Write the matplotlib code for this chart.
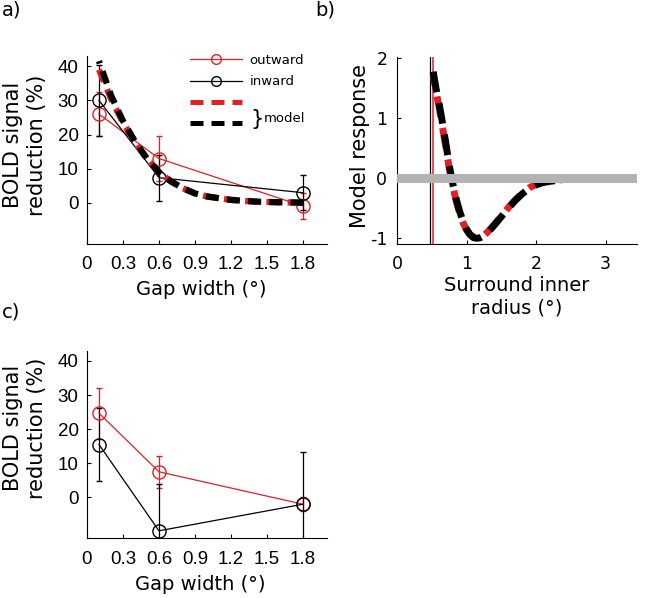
import numpy as np
import matplotlib
matplotlib.use("Agg")
import matplotlib.pyplot as plt
from matplotlib.lines import Line2D

plt.rcParams['axes.unicode_minus'] = False
plt.rcParams['font.family'] = 'DejaVu Sans'

RED = '#e41e24'
GREY = '#b3b3b3'

# measured gap widths (deg)
gap = [0.1, 0.6, 1.8]

# panel a: experiment 1
out_a = [26.0, 13.0, -0.9]
out_a_err = [6.5, 6.5, 3.7]
in_a = [30.0, 7.4, 3.0]
in_a_err = [10.5, 6.7, 5.1]

# model prediction, panel a
model_x = [0.1, 0.2, 0.3, 0.4, 0.5, 0.6, 0.7, 0.8, 0.9, 1.0, 1.2, 1.4, 1.6, 1.8]
model_in = [41.5, 31.5, 24.0, 18.0, 13.0, 9.0, 6.3, 4.3, 2.8, 1.9, 0.9, 0.4, 0.2, 0.1]
model_out = [39.0, 30.5, 23.5, 17.8, 12.8, 9.0, 6.3, 4.3, 2.8, 1.9, 0.9, 0.4, 0.2, 0.1]

# panel b: model response vs surround inner radius
radius = [0.52, 0.56, 0.60, 0.65, 0.70, 0.75, 0.80, 0.85, 0.90, 0.95, 1.00, 1.05, 1.10,
          1.15, 1.20, 1.25, 1.30, 1.40, 1.50, 1.60, 1.70, 1.80, 1.90, 2.00, 2.10, 2.20,
          2.40, 2.60, 2.80, 3.00, 3.20, 3.40]
resp_in = [1.78, 1.50, 1.28, 0.95, 0.60, 0.22, -0.08, -0.34, -0.55, -0.72, -0.85, -0.94, -0.99,
           -1.00, -0.99, -0.96, -0.91, -0.78, -0.64, -0.50, -0.37, -0.26, -0.17, -0.11, -0.07, -0.05,
           -0.02, -0.01, -0.005, 0.0, 0.0, 0.0]
resp_out = [1.72, 1.45, 1.22, 0.88, 0.54, 0.17, -0.12, -0.37, -0.58, -0.74, -0.86, -0.94, -0.98,
            -0.99, -0.98, -0.95, -0.90, -0.77, -0.63, -0.49, -0.36, -0.25, -0.16, -0.10, -0.06, -0.04,
            -0.02, -0.01, -0.005, 0.0, 0.0, 0.0]
edge_in = 0.475
edge_out = 0.515

# panel c: experiment 2
out_c = [24.7, 7.5, -2.0]
out_c_err = [7.5, 4.7, 2.0]
in_c = [15.5, -9.8, -2.0]
in_c_err = [10.8, 13.7, 15.3]

gap_ticks = [0, 0.3, 0.6, 0.9, 1.2, 1.5, 1.8]
gap_ticklabels = ['0', '0.3', '0.6', '0.9', '1.2', '1.5', '1.8']
bold_ticks = [0, 10, 20, 30, 40]

fig = plt.figure(figsize=(6.64, 5.98), dpi=100)

def style_gap_axes(ax, label_y):
    for s in ['top', 'right']:
        ax.spines[s].set_visible(False)
    ax.set_xlim(0, 2.0)
    ax.set_ylim(-12, 43)
    ax.set_xticks(gap_ticks)
    ax.set_xticklabels(gap_ticklabels, family='Liberation Sans', fontsize=13.5)
    ax.set_yticks(bold_ticks)
    ax.set_yticklabels([str(t) for t in bold_ticks], family='Liberation Sans', fontsize=13.5)
    ax.tick_params(direction='in', length=3, width=0.8)
    ax.tick_params(axis='x', pad=9)
    ax.tick_params(axis='y', pad=6)
    ax.set_xlabel('Gap width (°)', fontsize=14)
    ax.set_ylabel('BOLD signal\nreduction (%)', fontsize=15)
    ax.yaxis.set_label_coords(-0.168, label_y)

def data_lines(ax, yo, yo_err, yi, yi_err):
    ax.errorbar(gap, yo, yerr=yo_err, color=RED, lw=0.9, elinewidth=0.9, capsize=2,
                marker='o', ms=9.5, mfc='none', mec=RED, mew=1.0, zorder=3)
    ax.errorbar(gap, yi, yerr=yi_err, color='black', lw=0.9, elinewidth=0.9, capsize=2,
                marker='o', ms=9.5, mfc='none', mec='black', mew=1.0, zorder=3)

# ---- a) ----
ax1 = fig.add_axes([0.131, 0.592, 0.3614, 0.3144])
data_lines(ax1, out_a, out_a_err, in_a, in_a_err)
ax1.plot(model_x, model_out, color=RED, lw=4.5, linestyle=(0, (2.1, 1.3)), zorder=4)
ax1.plot(model_x, model_in, color='black', lw=4.5, linestyle=(1.7, (2.1, 1.3)), zorder=4)
style_gap_axes(ax1, 0.527)
ax1.xaxis.set_label_coords(0.478, -0.19)

handles = [
    Line2D([], [], color=RED, lw=0.9, marker='o', ms=7, mfc='none', mec=RED),
    Line2D([], [], color='black', lw=0.9, marker='o', ms=7, mfc='none', mec='black'),
    Line2D([], [], color=RED, lw=3.6, dashes=(2.6, 1.6)),
    Line2D([], [], color='black', lw=3.6, dashes=(2.6, 1.6)),
]
ax1.legend(handles, ['outward', 'inward', ' ', ' '], loc='upper left',
           bbox_to_anchor=(0.43, 1.01), frameon=False, fontsize=9.5,
           handlelength=3.9, handletextpad=0.6, labelspacing=0.62,
           borderpad=0, borderaxespad=0)
ax1.text(0.68, 0.665, '}', transform=ax1.transAxes, fontsize=15, va='center', ha='left')
ax1.text(0.735, 0.668, 'model', transform=ax1.transAxes, fontsize=9.5, va='center', ha='left')

# ---- b) ----
ax2 = fig.add_axes([0.598, 0.5915, 0.361, 0.3127])
for s in ['top', 'right']:
    ax2.spines[s].set_visible(False)
ax2.axvline(edge_in, color='black', lw=0.9, zorder=2)
ax2.axvline(edge_out, color=RED, lw=1.1, zorder=2)
ax2.plot(radius, resp_out, color=RED, lw=5, linestyle=(1.5, (3.0, 1.6)), zorder=3)
ax2.plot(radius, resp_in, color='black', lw=5, linestyle=(0, (3.0, 1.6)), zorder=4)
ax2.axhline(0, color=GREY, lw=6.5, zorder=5)
ax2.set_xlim(0, 3.45)
ax2.set_ylim(-1.1, 2.02)
ax2.set_xticks([0, 1, 2, 3])
ax2.set_yticks([-1, 0, 1, 2])
ax2.set_yticklabels(['-1', '0', '1', '2'])
ax2.tick_params(direction='in', length=3, width=0.8, labelsize=12.5)
ax2.tick_params(axis='x', pad=8)
ax2.tick_params(axis='y', pad=7)
ax2.set_xlabel('Surround inner\nradius (°)', fontsize=14)
ax2.set_ylabel('Model response', fontsize=15)
ax2.xaxis.set_label_coords(0.497, -0.17)
ax2.yaxis.set_label_coords(-0.113, 0.527)

# ---- c) ----
ax3 = fig.add_axes([0.131, 0.0998, 0.3614, 0.3137])
data_lines(ax3, out_c, out_c_err, in_c, in_c_err)
style_gap_axes(ax3, 0.588)
ax3.xaxis.set_label_coords(0.471, -0.193)

fig.text(2 / 664, 1 - 10 / 598, 'a)', fontsize=14, va='center', ha='left')
fig.text(315 / 664, 1 - 10 / 598, 'b)', fontsize=14, va='center', ha='left')
fig.text(2 / 664, 1 - 312 / 598, 'c)', fontsize=14, va='center', ha='left')

fig.savefig('out.png', dpi=100)
